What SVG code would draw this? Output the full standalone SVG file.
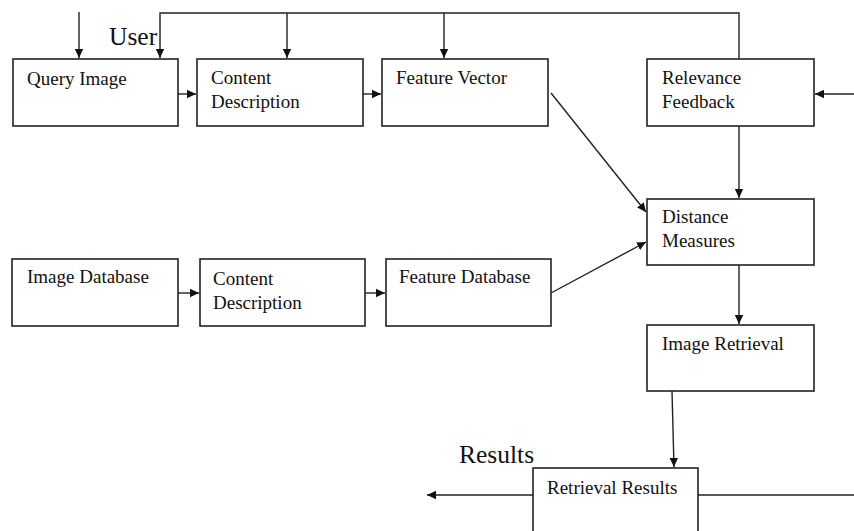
<svg xmlns="http://www.w3.org/2000/svg" width="854" height="531" viewBox="0 0 854 531">
<style>
.box{fill:#fff;stroke:#222;stroke-width:1.6}
.t{font-family:"Liberation Serif","Times New Roman",serif;font-size:19px;fill:#111}
.big{font-family:"Liberation Serif","Times New Roman",serif;font-size:25.5px;fill:#111}
.c{fill:none;stroke:#222;stroke-width:1.4}
</style>
<defs>
<marker id="ah" markerWidth="10" markerHeight="10" refX="9" refY="5" orient="auto" markerUnits="userSpaceOnUse">
<path d="M0,0.8 L9,5 L0,9.2 Z" fill="#111"/>
</marker>
</defs>
<rect width="854" height="531" fill="#fff"/>
<g id="connectors">
<line class="c" x1="79" y1="12" x2="79" y2="58" marker-end="url(#ah)"/>
<polyline class="c" points="739,59 739,13 160,13 160,58" marker-end="url(#ah)"/>
<line class="c" x1="287" y1="13" x2="287" y2="58" marker-end="url(#ah)"/>
<line class="c" x1="444" y1="13" x2="444" y2="58" marker-end="url(#ah)"/>
<line class="c" x1="178" y1="94" x2="196" y2="94" marker-end="url(#ah)"/>
<line class="c" x1="363" y1="94" x2="381" y2="94" marker-end="url(#ah)"/>
<line class="c" x1="854" y1="94" x2="815" y2="94" marker-end="url(#ah)"/>
<line class="c" x1="739" y1="126" x2="739" y2="198" marker-end="url(#ah)"/>
<line class="c" x1="551" y1="93" x2="646" y2="212" marker-end="url(#ah)"/>
<line class="c" x1="178" y1="293" x2="199" y2="293" marker-end="url(#ah)"/>
<line class="c" x1="365" y1="293" x2="385" y2="293" marker-end="url(#ah)"/>
<line class="c" x1="551" y1="293" x2="646" y2="242" marker-end="url(#ah)"/>
<line class="c" x1="739" y1="265" x2="739" y2="324" marker-end="url(#ah)"/>
<line class="c" x1="672" y1="391" x2="674" y2="467" marker-end="url(#ah)"/>
<line class="c" x1="533" y1="495" x2="427" y2="495" marker-end="url(#ah)"/>
<line class="c" x1="698" y1="495" x2="854" y2="495"/>
</g>
<text class="big" x="109" y="45">User</text>
<text class="big" x="459" y="463">Results</text>
<g id="query-image"><rect class="box" x="13" y="59" width="165" height="67"/><text class="t" x="27" y="85">Query Image</text></g>
<g id="content-description-1"><rect class="box" x="197" y="59" width="166" height="67"/><text class="t" x="211" y="84">Content</text><text class="t" x="211" y="108">Description</text></g>
<g id="feature-vector"><rect class="box" x="382" y="59" width="166" height="67"/><text class="t" x="396" y="84">Feature Vector</text></g>
<g id="relevance-feedback"><rect class="box" x="647" y="59" width="167" height="67"/><text class="t" x="662" y="84">Relevance</text><text class="t" x="662" y="108">Feedback</text></g>
<g id="distance-measures"><rect class="box" x="647" y="199" width="167" height="66"/><text class="t" x="662" y="223">Distance</text><text class="t" x="662" y="247">Measures</text></g>
<g id="image-database"><rect class="box" x="12" y="259" width="166" height="67"/><text class="t" x="27" y="283">Image Database</text></g>
<g id="content-description-2"><rect class="box" x="200" y="259" width="165" height="67"/><text class="t" x="213" y="285">Content</text><text class="t" x="213" y="309">Description</text></g>
<g id="feature-database"><rect class="box" x="386" y="259" width="165" height="67"/><text class="t" x="399" y="283">Feature Database</text></g>
<g id="image-retrieval"><rect class="box" x="647" y="325" width="167" height="66"/><text class="t" x="662" y="350">Image Retrieval</text></g>
<g id="retrieval-results"><rect class="box" x="533" y="468" width="165" height="70"/><text class="t" x="547" y="494">Retrieval Results</text></g>
</svg>
